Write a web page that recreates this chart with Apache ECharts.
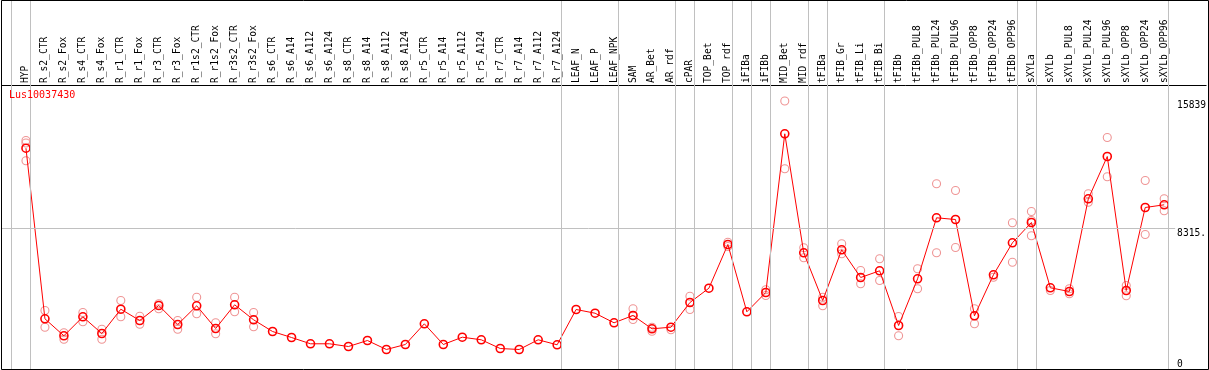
<!DOCTYPE html>
<html>
<head>
<meta charset="utf-8">
<script src="https://cdn.jsdelivr.net/npm/echarts@6/dist/echarts.min.js"></script>
<style>
html,body{margin:0;padding:0;background:#fff;}
#chart{width:1209px;height:370px;}
</style>
</head>
<body>
<div id="chart"></div>
<script>
const categories = ["HYP","R_s2_CTR","R_s2_Fox","R_s4_CTR","R_s4_Fox","R_r1_CTR","R_r1_Fox","R_r3_CTR","R_r3_Fox","R_r1s2_CTR","R_r1s2_Fox","R_r3s2_CTR","R_r3s2_Fox","R_s6_CTR","R_s6_A14","R_s6_A112","R_s6_A124","R_s8_CTR","R_s8_A14","R_s8_A112","R_s8_A124","R_r5_CTR","R_r5_A14","R_r5_A112","R_r5_A124","R_r7_CTR","R_r7_A14","R_r7_A112","R_r7_A124","LEAF_N","LEAF_P","LEAF_NPK","SAM","AR_Bet","AR_rdf","cPAR","TOP_Bet","TOP_rdf","iFIBa","iFIBb","MID_Bet","MID_rdf","tFIBa","tFIB_Gr","tFIB_Li","tFIB_Bi","tFIBb","tFIBb_PUL8","tFIBb_PUL24","tFIBb_PUL96","tFIBb_OPP8","tFIBb_OPP24","tFIBb_OPP96","sXYLa","sXYLb","sXYLb_PUL8","sXYLb_PUL24","sXYLb_PUL96","sXYLb_OPP8","sXYLb_OPP24","sXYLb_OPP96"];

const meanValues = [13051,2990,1987,3108,2123,3556,2890,3774,2654,3757,2418,3816,2931,2241,1887,1516,1516,1356,1710,1180,1474,2695,1474,1905,1752,1238,1180,1752,1457,3539,3320,2754,3185,2400,2495,3951,4795,7372,3403,4541,13900,6882,4069,7059,5426,5821,2595,5349,8946,8846,3167,5585,7472,8669,4818,4600,10067,12562,4659,9554,9713];

const rep1 = [13505,3480,2164,3362,2377,4069,3143,3875,2890,4264,2754,4264,3362,null,null,null,null,null,null,null,null,null,null,null,null,null,null,null,null,null,null,null,3580,2495,2341,4323,null,7507,null,4700,15839,7177,4264,7413,5839,6528,3126,5939,10952,10557,3580,5443,8652,9318,4659,4759,10362,13682,4954,11146,10067];
const rep2 = [13358,2495,1787,2813,1787,3108,2672,3580,2377,3285,2105,3403,2518,null,null,null,null,null,null,null,null,null,null,null,null,null,null,null,null,null,null,null,2949,2259,null,3539,null,7254,null,4364,11836,6587,3757,6823,5054,5249,1987,4759,6882,7195,2695,null,6328,8787,null,4464,9867,11365,4346,7962,9359];
const rep3 = [12308,null,null,null,null,null,null,null,null,null,null,null,null,null,null,null,null,null,null,null,null,null,null,null,null,null,null,null,null,null,null,null,null,null,null,null,null,null,null,null,null,null,null,null,null,null,null,null,null,null,null,null,null,7885,null,null,null,null,null,null,null];

const groupEnds = [-1,0,28,31,34,35,37,38,39,41,42,45,52,53,60];
const gridValue = 8315.5;
const yTickValues = [8315.5, 15839];
const yTickLabels = ["8315.", "15839"];
const yZeroValues = [0];
const yZeroLabels = ["0"];

const PX = 19;                 // pixels per category
const xMin = -24 / PX;
const xMax = xMin + 1206 / PX;
const yMax = gridValue * 369.5 / 141;

function pts(arr){ const out=[]; arr.forEach((v,i)=>{ if(v!=null) out.push([i,v]); }); return out; }
const repPoints = pts(rep1).concat(pts(rep2), pts(rep3));

const FONT = 'DejaVu Sans Mono';
const chart = echarts.init(document.getElementById('chart'), null, {renderer:'canvas'});
chart.setOption({
  animation:false,
  backgroundColor:'#ffffff',
  title:{text:'Lus10037430', left:9, top:90, padding:0,
    textStyle:{color:'#ff0000', fontSize:10, fontWeight:'normal', fontFamily:FONT}},
  grid:{left:2, right:1, top:0, bottom:0.5, containLabel:false},
  xAxis:[{
    type:'value', position:'top', offset:-85, min:xMin, max:xMax,
    axisLine:{show:true, onZero:false, lineStyle:{color:'#000', width:1}},
    axisTick:{show:false}, splitLine:{show:false},
    axisLabel:{customValues:categories.map((_,i)=>i), formatter:v=>categories[Math.round(v)]||'',
      rotate:-90, margin:2, fontFamily:FONT, fontSize:9.6, color:'#000'}
  }],
  yAxis:[{
    type:'value', position:'right', min:0, max:yMax,
    axisLine:{show:false, onZero:false}, axisTick:{show:false}, splitLine:{show:false},
    axisLabel:{inside:true, margin:29, align:'left', verticalAlign:'top', customValues:yTickValues,
      formatter:v=>{const k=yTickValues.indexOf(v);return k>=0?yTickLabels[k]:'';},
      fontFamily:FONT, fontSize:9.6, color:'#000'}
  },{
    type:'value', position:'right', min:0, max:yMax,
    axisLine:{show:false, onZero:false}, axisTick:{show:false}, splitLine:{show:false},
    axisLabel:{inside:true, margin:29, align:'left', verticalAlign:'bottom', customValues:yZeroValues,
      formatter:v=>{const k=yZeroValues.indexOf(v);return k>=0?yZeroLabels[k]:'';},
      fontFamily:FONT, fontSize:9.6, color:'#000'}
  }],
  series:[{
    type:'scatter', name:'replicates', data:repPoints,
    symbol:'circle', symbolSize:8,
    itemStyle:{color:'rgba(0,0,0,0)', borderColor:'#ef9595', borderWidth:1.1, opacity:1},
    silent:true, z:2,
    markLine:{silent:true, symbol:['none','none'], label:{show:false},
      lineStyle:{color:'#c0c0c0', width:1, type:'solid'},
      emphasis:{disabled:true},
      data:groupEnds.map(g=>({xAxis:g+4.5/PX})).concat([[{coord:[xMin,gridValue]},{coord:[(1177-26)/PX,gridValue]}]])
    }
  },{
    type:'line', name:'mean', data:meanValues.map((v,i)=>[i,v]),
    symbol:'circle', symbolSize:8, showAllSymbol:true,
    itemStyle:{color:'rgba(0,0,0,0)', borderColor:'#ff0000', borderWidth:1.6},
    lineStyle:{color:'#ff0000', width:1},
    silent:true, z:3
  }],
  graphic:[{type:'rect', z:100, silent:true,
    shape:{x:1.5, y:0.5, width:1207, height:369},
    style:{fill:'none', stroke:'#000', lineWidth:1}}]
});
</script>
</body>
</html>
